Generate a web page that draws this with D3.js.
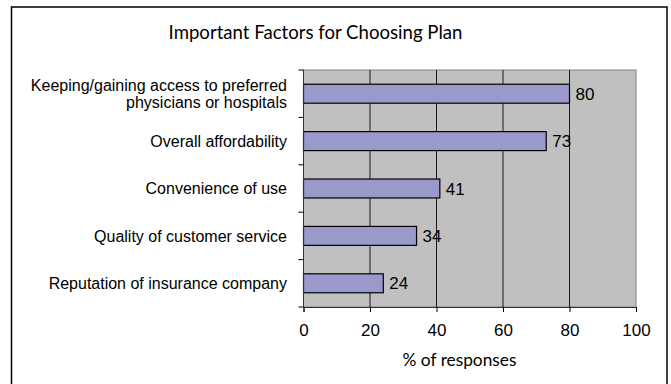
<!DOCTYPE html>
<html>
<head>
<meta charset="utf-8">
<script src="https://cdn.jsdelivr.net/npm/d3@7"></script>
<style>
  body { margin: 0; background: #fff; }
  svg { display: block; }
</style>
</head>
<body>
<svg id="chart" width="671" height="384"></svg>
<script>
const categories = [
  ["Keeping/gaining access to preferred", "physicians or hospitals"],
  ["Overall affordability"],
  ["Convenience of use"],
  ["Quality of customer service"],
  ["Reputation of insurance company"]
];
const values = [80, 73, 41, 34, 24];
const xTicks = [0, 20, 40, 60, 80, 100];

const width = 671, height = 384;
const margin = { top: 70, right: 35, bottom: 77, left: 303.5 };

const svg = d3.select("#chart");

// outer frame
svg.append("rect")
  .attr("x", 11.5).attr("y", 7)
  .attr("width", 655.5).attr("height", 390)
  .attr("fill", "none").attr("stroke", "#000").attr("stroke-width", 1.5);

const x = d3.scaleLinear().domain([0, 100]).range([margin.left, width - margin.right]);
const y = d3.scaleBand()
  .domain(d3.range(values.length))
  .range([margin.top, height - margin.bottom])
  .paddingInner(0.6)
  .paddingOuter(0.3);

// plot background
svg.append("rect")
  .attr("x", x(0)).attr("y", margin.top)
  .attr("width", x(100) - x(0)).attr("height", height - margin.bottom - margin.top)
  .attr("fill", "#c0c0c0")
  .attr("stroke", "#808080").attr("stroke-width", 1);

// gridlines
svg.append("g")
  .selectAll("line")
  .data(xTicks.slice(1, -1))
  .join("line")
  .attr("x1", d => x(d)).attr("x2", d => x(d))
  .attr("y1", margin.top).attr("y2", height - margin.bottom)
  .attr("stroke", "#1a1a1a").attr("stroke-width", 1);

// bars
svg.append("g")
  .selectAll("rect")
  .data(values)
  .join("rect")
  .attr("x", x(0))
  .attr("y", (d, i) => y(i))
  .attr("width", d => x(d) - x(0))
  .attr("height", y.bandwidth())
  .attr("fill", "#9999cc")
  .attr("stroke", "#000")
  .attr("stroke-width", 1.2);

// value labels
svg.append("g")
  .selectAll("text")
  .data(values)
  .join("text")
  .attr("x", d => x(d) + 6)
  .attr("y", (d, i) => y(i) + y.bandwidth() / 2)
  .attr("dy", "0.36em")
  .attr("font-family", "Liberation Sans, Arial, sans-serif")
  .attr("font-size", 17)
  .attr("fill", "#000")
  .text(d => d);

// x axis
const xAxis = svg.append("g")
  .attr("transform", `translate(0,${height - margin.bottom})`)
  .call(d3.axisBottom(x).tickValues(xTicks).tickSize(5).tickPadding(12));
xAxis.select(".domain").attr("stroke", "#333");
xAxis.selectAll(".tick line").attr("stroke", "#000");
xAxis.selectAll("text")
  .attr("font-family", "Liberation Sans, Arial, sans-serif")
  .attr("font-size", 17)
  .attr("fill", "#000");

// y axis: ticks at band boundaries
const step = y.step();
const boundaries = d3.range(values.length + 1).map(i => margin.top + i * step);
svg.append("line")
  .attr("x1", x(0)).attr("x2", x(0))
  .attr("y1", margin.top).attr("y2", height - margin.bottom)
  .attr("stroke", "#333");
svg.append("g")
  .selectAll("line")
  .data(boundaries)
  .join("line")
  .attr("x1", x(0) - 5).attr("x2", x(0))
  .attr("y1", d => d).attr("y2", d => d)
  .attr("stroke", "#000");

// category labels
const labels = svg.append("g")
  .selectAll("text")
  .data(categories)
  .join("text")
  .attr("text-anchor", "end")
  .attr("font-family", "Liberation Sans, Arial, sans-serif")
  .attr("font-size", 16)
  .attr("fill", "#000")
  .attr("y", (d, i) => y(i) + y.bandwidth() / 2);
labels.selectAll("tspan")
  .data(d => d.map((t, j) => ({ t, j, n: d.length })))
  .join("tspan")
  .attr("x", 287)
  .attr("dy", d => d.j === 0 ? `${0.36 - (d.n - 1) * 0.53}em` : "1.06em")
  .text(d => d.t);

// title
svg.append("text")
  .attr("x", 315.5).attr("y", 39)
  .attr("text-anchor", "middle")
  .attr("font-family", "Lato, Open Sans, sans-serif")
  .attr("font-size", 18.6)
  .attr("fill", "#000")
  .text("Important Factors for Choosing Plan");

// axis title
svg.append("text")
  .attr("x", 459.5).attr("y", 366)
  .attr("text-anchor", "middle")
  .attr("font-family", "Lato, Open Sans, sans-serif")
  .attr("font-size", 17.3)
  .attr("fill", "#000")
  .text("% of responses");
</script>
</body>
</html>
